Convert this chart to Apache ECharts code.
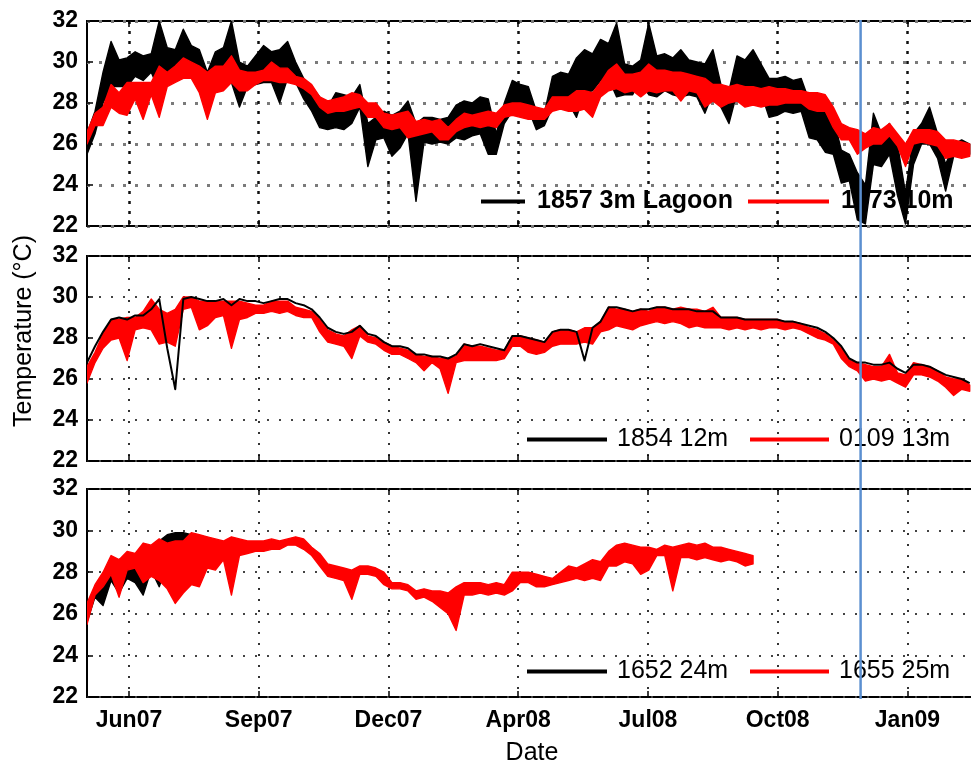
<!DOCTYPE html>
<html>
<head>
<meta charset="utf-8">
<title>Temperature records</title>
<script src="https://cdn.jsdelivr.net/npm/echarts@6/dist/echarts.min.js"></script>
<style>
  html, body { margin: 0; padding: 0; background: #fff; }
  #chart { width: 971px; height: 767px; }
</style>
</head>
<body>
<div id="chart"></div>
<script>
const DAY = 86400000;
const START = Date.UTC(2007, 4, 14, 14);   // first sample
const STEP = 6 * DAY;                       // spacing of the upper / lower envelope samples
const X_MIN = START;
const X_MAX = Date.UTC(2009, 2, 20, 12);    // right edge runs past the page, as in the original

const tickDates = [
    Date.UTC(2007, 5, 15), Date.UTC(2007, 8, 20), Date.UTC(2007, 11, 26),
    Date.UTC(2008, 3, 1), Date.UTC(2008, 6, 7), Date.UTC(2008, 9, 12), Date.UTC(2009, 0, 17)
];
const tickLabels = ['Jun07', 'Sep07', 'Dec07', 'Apr08', 'Jul08', 'Oct08', 'Jan09'];
const markerDate = Date.UTC(2008, 11, 13);  // blue vertical line

// top panel: envelope (max / min) of each noisy record, one pair per 6 days
const t1857_3m_hi = [
    26.5,27.6,29.5,31.0,30.1,30.2,30.5,30.3,30.4,32.0,
    30.7,30.6,31.6,30.8,30.6,29.5,30.5,30.7,32.0,30.0,
    29.8,30.3,30.8,30.5,30.6,31.0,30.0,29.2,28.8,28.3,
    27.8,28.5,28.4,28.3,28.9,27.0,27.3,27.6,27.4,27.6,
    28.1,27.0,27.3,27.3,27.2,27.3,27.9,28.1,28.0,28.3,
    28.2,26.5,28.0,29.1,28.9,28.8,27.6,27.5,29.3,29.5,
    29.4,30.2,30.6,30.4,31.1,30.9,31.9,29.9,29.8,30.1,
    31.9,30.3,30.4,30.2,30.6,30.1,30.0,29.9,30.6,28.9,
    28.6,30.3,30.1,30.6,29.9,29.2,29.2,29.3,29.1,29.2,
    28.1,28.0,27.6,27.3,25.7,25.5,24.6,24.0,27.5,26.5,
    27.0,26.0,23.6,26.5,27.0,27.8,26.5,25.0,26.0,26.2,26.0
];
const t1857_3m_lo = [
    25.5,26.5,28.0,28.8,28.8,28.8,29.3,29.1,29.5,28.6,
    29.0,29.1,29.5,29.6,28.6,27.7,28.8,28.9,29.0,27.8,
    28.8,28.9,29.0,29.0,28.0,29.2,29.0,28.2,27.6,26.8,
    26.7,26.8,26.7,27.0,27.8,24.9,26.2,26.3,25.4,25.8,
    26.5,23.2,26.1,26.0,26.1,26.0,26.3,26.2,26.4,26.5,
    25.5,25.5,27.0,27.6,27.6,27.7,26.7,26.9,27.8,27.9,
    28.0,27.3,28.5,28.6,29.1,29.2,28.3,28.4,28.4,29.2,
    28.4,28.3,28.6,28.4,28.3,28.4,28.3,27.5,28.5,27.8,
    27.0,28.5,28.5,28.6,28.5,27.3,27.4,27.6,27.5,27.6,
    26.3,26.2,25.6,25.5,24.1,24.2,22.3,22.1,25.0,24.9,
    25.5,23.5,22.1,25.0,26.0,26.0,25.3,23.7,25.4,25.5,25.5
];
const t1673_10m_hi = [
    26.6,27.5,27.8,28.9,28.5,29.0,29.0,29.0,29.0,29.8,
    29.5,29.8,30.2,30.0,29.8,29.5,29.8,29.8,30.3,29.6,
    29.5,29.5,29.6,30.0,29.7,29.7,29.3,29.2,28.9,28.3,
    28.1,28.2,28.3,28.5,28.4,28.0,28.0,27.5,27.4,27.5,
    27.6,27.1,27.2,27.1,27.2,26.8,27.2,27.5,27.4,27.5,
    27.6,27.5,27.9,28.0,28.0,27.9,27.8,27.7,28.3,28.3,
    28.3,28.6,28.6,28.5,29.0,29.6,29.9,29.4,29.4,29.5,
    29.9,29.6,29.6,29.5,29.5,29.4,29.3,29.2,28.9,28.9,
    28.8,28.9,28.8,28.8,28.7,28.8,28.7,28.7,28.6,28.6,
    28.5,28.5,28.4,27.8,27.0,26.8,26.7,26.5,26.8,26.7,
    27.0,26.5,26.0,26.7,26.7,26.7,26.6,26.2,26.2,26.1,26.0
];
const t1673_10m_lo = [
    26.0,26.9,26.9,27.8,27.5,27.4,28.2,27.2,28.4,27.3,
    28.8,29.0,29.2,29.2,28.5,27.2,28.5,28.6,29.0,28.6,
    28.6,28.9,29.1,29.1,29.0,29.0,28.9,28.7,28.4,27.8,
    27.5,27.6,27.6,27.7,27.8,27.3,27.3,26.8,26.7,26.8,
    26.3,26.4,26.5,26.6,26.2,26.2,26.6,26.8,26.9,26.8,
    26.9,26.8,27.3,27.4,27.3,27.2,27.2,27.2,27.6,27.7,
    27.6,27.6,27.7,27.3,28.3,28.6,28.7,28.5,28.6,28.3,
    28.6,28.5,28.6,28.6,28.1,28.6,28.5,27.8,28.1,27.8,
    28.0,28.1,27.8,27.9,27.8,27.9,27.9,28.0,28.0,28.0,
    27.7,27.6,27.6,26.8,26.2,26.2,25.5,25.8,26.0,26.0,
    26.4,25.9,24.9,26.0,26.1,26.0,25.9,25.3,25.4,25.3,25.4
];

// middle panel
const t1854_12m = [
    26.8,27.6,28.3,28.9,29.0,28.9,29.1,29.1,29.4,29.9,
    27.5,25.5,29.9,30.0,29.9,29.8,29.8,29.9,29.6,29.9,
    29.8,29.8,29.7,29.8,29.9,29.9,29.7,29.6,29.4,29.0,
    28.5,28.3,28.2,28.3,28.6,28.2,28.1,27.8,27.6,27.6,
    27.5,27.2,27.2,27.1,27.1,27.0,27.2,27.7,27.6,27.7,
    27.6,27.5,27.4,28.1,28.1,28.0,27.9,27.8,28.3,28.4,
    28.4,28.3,26.9,28.5,28.8,29.5,29.5,29.4,29.3,29.4,
    29.4,29.5,29.5,29.4,29.4,29.4,29.3,29.3,29.3,29.0,
    29.0,29.0,28.9,28.9,28.9,28.9,28.9,28.8,28.8,28.7,
    28.6,28.5,28.3,28.0,27.6,27.0,26.8,26.8,26.7,26.7,
    26.8,26.5,26.3,26.7,26.7,26.6,26.4,26.2,26.1,26.0,25.8
];
const t0109_13m_hi = [
    26.6,27.3,28.2,28.9,28.9,29.0,29.0,29.3,29.9,29.4,
    29.2,29.4,30.0,30.0,29.8,29.8,29.8,29.8,29.8,29.8,
    29.7,29.6,29.6,29.8,29.8,29.8,29.5,29.4,29.3,28.9,
    28.4,28.2,28.1,28.4,28.6,28.1,28.0,27.8,27.6,27.5,
    27.4,27.2,27.1,27.1,27.0,27.0,27.1,27.7,27.6,27.6,
    27.5,27.4,27.4,28.1,28.1,28.0,27.9,27.8,28.3,28.4,
    28.4,28.3,28.5,28.5,28.8,29.5,29.4,29.4,29.3,29.4,
    29.3,29.5,29.5,29.4,29.5,29.4,29.4,29.3,29.5,29.0,
    29.0,29.0,28.9,28.9,28.9,28.9,28.9,28.8,28.8,28.7,
    28.5,28.4,28.2,27.9,27.5,26.9,26.8,26.7,26.6,26.6,
    27.2,26.3,26.2,26.8,26.7,26.6,26.4,26.1,26.0,26.0,25.7
];
const t0109_13m_lo = [
    25.8,26.8,27.5,27.9,28.0,26.9,28.4,28.5,28.4,27.7,
    27.8,27.6,29.4,29.5,28.4,28.6,29.0,29.1,27.5,28.9,
    29.0,29.2,29.2,29.3,29.2,29.3,29.1,29.0,29.0,28.3,
    27.8,27.7,27.6,27.0,28.1,27.8,27.7,27.4,27.2,27.2,
    27.0,26.8,26.4,26.8,26.5,25.3,26.8,26.9,26.9,26.9,
    26.9,26.9,27.0,27.6,27.6,27.3,27.2,27.3,27.6,27.7,
    27.7,27.7,27.8,27.7,28.3,28.4,28.6,28.5,28.4,28.6,
    28.7,28.8,28.7,28.8,28.7,28.5,28.6,28.5,28.5,28.5,
    28.4,28.5,28.4,28.5,28.4,28.5,28.5,28.4,28.5,28.4,
    28.2,28.0,27.9,27.7,27.0,26.6,26.4,25.9,26.0,25.9,
    26.0,25.8,25.6,26.2,26.2,26.1,25.9,25.6,25.2,25.5,25.4
];

// bottom panel
const t1652_24m_hi = [
    26.4,27.2,27.8,28.5,28.6,28.8,28.7,28.8,29.1,29.5,
    29.8,29.9,29.9,29.8,29.6
];
const t1652_24m_lo = [
    25.6,26.8,26.4,27.6,27.0,27.7,27.5,26.9,28.1,27.3,
    28.4,28.6,27.2,28.5,28.8
];
const t1655_25m_hi = [
    26.5,27.4,28.0,28.8,28.6,29.0,28.9,29.4,29.3,29.6,
    29.4,29.5,29.5,29.9,29.8,29.7,29.6,29.5,29.7,29.6,
    29.5,29.5,29.5,29.6,29.5,29.6,29.7,29.6,29.2,28.9,
    28.4,28.3,28.2,28.1,28.3,28.3,28.2,28.0,27.5,27.5,
    27.4,27.1,27.2,27.1,27.1,27.0,27.3,27.5,27.5,27.5,
    27.4,27.5,27.4,28.0,28.0,28.0,27.9,27.8,27.7,28.0,
    28.3,28.2,28.4,28.6,28.5,29.0,29.3,29.4,29.3,29.2,
    29.2,29.1,29.3,29.2,29.3,29.4,29.3,29.4,29.2,29.2,
    29.1,29.0,28.9,28.8
];
const t1655_25m_lo = [
    25.5,26.9,27.3,27.9,26.8,28.1,28.2,27.5,27.8,27.6,
    27.2,26.5,27.0,27.4,27.3,28.2,28.1,28.6,26.9,28.8,
    28.9,29.0,29.0,29.1,29.1,29.3,29.3,29.1,28.8,28.3,
    27.8,27.7,27.6,26.7,27.9,27.9,27.8,27.4,27.2,27.2,
    27.1,26.7,26.8,26.6,26.3,26.0,25.2,26.9,26.9,27.0,
    26.9,27.0,26.9,27.1,27.5,27.5,27.3,27.3,27.4,27.5,
    27.6,27.7,27.6,27.7,27.6,28.3,28.3,28.5,28.4,27.9,
    28.1,28.8,28.8,27.1,28.7,28.7,28.6,28.7,28.6,28.5,
    28.6,28.5,28.3,28.4
];

const FONT = '"Liberation Sans", Arial, sans-serif';

function dateLabel(v) {
    const idx = tickDates.indexOf(v);
    return idx >= 0 ? tickLabels[idx] : '';
}

const gridBoxes = [
    { top: 21, height: 205 },
    { top: 256, height: 205 },
    { top: 489, height: 208 }
];

// panel 1 grid dots are coarser than the other two
const hDots = [
    { color: '#7a7a7a', width: 3, type: [3, 9] },
    { color: '#444', width: 2, type: [2, 10] },
    { color: '#444', width: 2, type: [2, 10] }
];
const vDots = [
    { color: '#111', width: 2.5, type: [3, 7] },
    { color: '#333', width: 2, type: [2, 9] },
    { color: '#333', width: 2, type: [2, 9] }
];

// the plot area continues past the right edge of the page
const grid = gridBoxes.map(g => ({
    left: 87, width: 904, top: g.top, height: g.height,
    outerBoundsMode: 'none', containLabel: false,
    show: true, borderColor: '#000', borderWidth: 2, backgroundColor: 'transparent'
}));

const xAxis = [];
gridBoxes.forEach((g, i) => {
    xAxis.push({
        type: 'value', gridIndex: i, min: X_MIN, max: X_MAX, position: 'bottom',
        axisLine: { show: false },
        axisTick: { show: true, inside: true, length: 6, customValues: tickDates, lineStyle: { color: '#000', width: 1.5 } },
        axisLabel: {
            show: i === 2, customValues: tickDates, formatter: dateLabel, margin: 12,
            color: '#000', fontFamily: FONT, fontWeight: 'bold', fontSize: 23
        },
        splitLine: { show: true, lineStyle: vDots[i] }
    });
});
gridBoxes.forEach((g, i) => {
    xAxis.push({
        type: 'value', gridIndex: i, min: X_MIN, max: X_MAX, position: 'top',
        axisLine: { show: false },
        axisTick: { show: true, inside: true, length: 6, customValues: tickDates, lineStyle: { color: '#000', width: 1.5 } },
        axisLabel: { show: false },
        splitLine: { show: false }
    });
});

const yAxis = gridBoxes.map((g, i) => ({
    type: 'value', gridIndex: i, min: 22, max: 32, interval: 2,
    axisLine: { show: false },
    axisTick: { show: true, inside: true, length: 6, lineStyle: { color: '#000', width: 1.5 } },
    axisLabel: { color: '#000', fontFamily: FONT, fontWeight: 'bold', fontSize: 23, margin: 9 },
    splitLine: { show: true, lineStyle: hDots[i] }
}));

// a noisy record drawn as a filled band between its lower and upper envelope
function bandSeries(name, panel, hi, lo, color, edge) {
    return {
        type: 'custom', name: name, xAxisIndex: panel, yAxisIndex: panel,
        silent: true, animation: false, clip: true,
        itemStyle: { color: color },
        data: hi.map((v, i) => [START + i * STEP, lo[i], v]),
        encode: { x: 0, y: [1, 2] },
        renderItem: function (params, api) {
            if (params.dataIndex !== 0) return null;
            const top = hi.map((v, i) => api.coord([START + i * STEP, v]));
            const bottom = lo.map((v, i) => api.coord([START + i * STEP, v])).reverse();
            return {
                type: 'polygon',
                shape: { points: top.concat(bottom) },
                style: { fill: color, stroke: color, lineWidth: edge, lineJoin: 'round' }
            };
        }
    };
}

function lineSeries(name, panel, values, color, width) {
    return {
        type: 'line', name: name, xAxisIndex: panel, yAxisIndex: panel,
        symbol: 'none', showSymbol: false, animation: false, silent: true,
        color: color,
        data: values.map((v, i) => [START + i * STEP, v]),
        lineStyle: { color: color, width: width, join: 'round' }
    };
}

const series = [
    bandSeries('1857 3m Lagoon', 0, t1857_3m_hi, t1857_3m_lo, '#000000', 1.4),
    bandSeries('1673 10m', 0, t1673_10m_hi, t1673_10m_lo, '#ff0000', 1.4),
    lineSeries('1854 12m', 1, t1854_12m, '#000000', 2),
    bandSeries('0109 13m', 1, t0109_13m_hi, t0109_13m_lo, '#ff0000', 1.4),
    bandSeries('1652 24m', 2, t1652_24m_hi, t1652_24m_lo, '#000000', 1.4),
    bandSeries('1655 25m', 2, t1655_25m_hi, t1655_25m_lo, '#ff0000', 1.4)
];

function legendItem(name, left, top, width, bold) {
    return {
        data: [name], left: left, top: top, padding: 0, z: 1,
        orient: 'horizontal', selectedMode: false,
        icon: 'rect', itemWidth: width, itemHeight: 4,
        itemStyle: { color: /^(1857|1854|1652)/.test(name) ? '#000000' : '#ff0000' },
        textStyle: {
            color: '#000', fontFamily: FONT, fontSize: 25,
            fontWeight: bold ? 'bold' : 'normal', padding: [0, 0, 0, bold ? 7 : 5]
        }
    };
}

const legend = [
    legendItem('1857 3m Lagoon', 481, 189, 44, true),
    legendItem('1673 10m', 748, 189, 81, true),
    legendItem('1854 12m', 527, 427, 80, false),
    legendItem('0109 13m', 750, 427, 79, false),
    legendItem('1652 24m', 527, 659, 80, false),
    legendItem('1655 25m', 750, 659, 79, false)
];

const chart = echarts.init(document.getElementById('chart'), null, { renderer: 'canvas' });
chart.setOption({
    animation: false,
    backgroundColor: '#ffffff',
    grid: grid,
    xAxis: xAxis,
    yAxis: yAxis,
    legend: legend,
    series: series
});

// blue marker across all three panels, plus axis titles
const mx = chart.convertToPixel({ xAxisIndex: 0 }, markerDate);
const yTop = chart.convertToPixel({ yAxisIndex: 0 }, 32);
const yBottom = chart.convertToPixel({ yAxisIndex: 2 }, 22);

chart.setOption({
    graphic: [
        {
            type: 'line', z: 100,
            shape: { x1: mx, y1: yTop - 1, x2: mx, y2: yBottom + 2 },
            style: { stroke: '#5b8fd0', lineWidth: 2.5 }
        },
        {
            type: 'text', x: 24, y: 331, rotation: Math.PI / 2,
            style: {
                text: 'Temperature (°C)', fill: '#000', font: '25px ' + FONT,
                align: 'center', verticalAlign: 'middle'
            }
        },
        {
            type: 'text', x: 532, y: 753,
            style: {
                text: 'Date', fill: '#000', font: '25px ' + FONT,
                align: 'center', verticalAlign: 'middle'
            }
        }
    ]
});
</script>
</body>
</html>
